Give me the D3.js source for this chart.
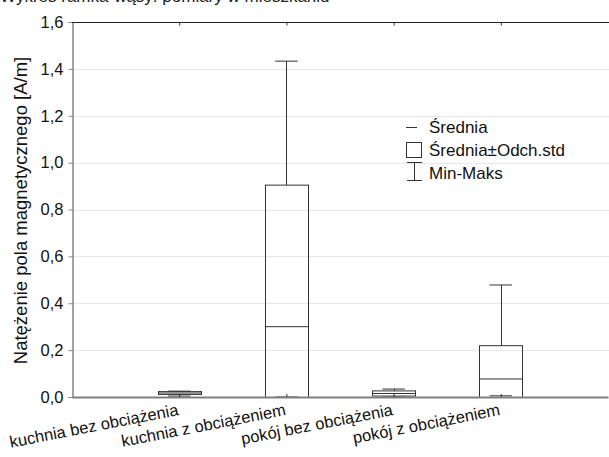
<!DOCTYPE html>
<html>
<head>
<meta charset="utf-8">
<script src="https://cdn.jsdelivr.net/npm/d3@7"></script>
<style>
  body { margin: 0; background: #fff; }
  svg { font-family: Arial, "Liberation Sans", sans-serif; }
</style>
</head>
<body>
<div id="chart"></div>
<script>
// box plot: srednia, srednia +/- odch.std, min-maks

var categories = ["kuchnia bez obciążenia", "kuchnia z obciążeniem", "pokój bez obciążenia", "pokój z obciążeniem"];
var means = [0.017, 0.30, 0.015, 0.077];
var sds   = [0.006, 0.604, 0.011, 0.142];
var mins  = [0.004, 0.0, 0.0, 0.005];
var maxs  = [0.025, 1.433, 0.034, 0.478];
var yTicks = [0, 0.2, 0.4, 0.6, 0.8, 1.0, 1.2, 1.4, 1.6];
var legendLabels = ["Średnia", "Średnia±Odch.std", "Min-Maks"];
var titleText = "Wykres ramka-wąsy: pomiary w mieszkaniu";
var yLabel = "Natężenie pola magnetycznego [A/m]";

var W = 609, H = 457;
var mLeft = 72, mRight = 608, mTop = 22, mBottom = 397;
var dark = "#333";

var svg = d3.select("#chart").append("svg")
    .attr("width", W)
    .attr("height", H);

var x = d3.scalePoint().domain(categories).range([mLeft, mRight]).padding(1);
var y = d3.scaleLinear().domain([0, 1.6]).range([mBottom, mTop]);
var fmt = function(d){ return d3.format(".1f")(d).replace(".", ","); };
var boxW = x.step() * 0.4, capW = x.step() * 0.21;

// title (cut off at the top of the picture)
svg.append("text")
    .attr("x", 0)
    .attr("y", 1.5)
    .attr("font-size", 17)
    .attr("fill", "#222")
    .text(titleText);

// gridlines
svg.append("g").selectAll("line")
    .data(yTicks.filter(function(d){ return d > 0; }))
    .enter().append("line")
    .attr("x1", mLeft).attr("x2", W)
    .attr("y1", function(d){ return Math.round(y(d)) + 0.5; })
    .attr("y2", function(d){ return Math.round(y(d)) + 0.5; })
    .attr("stroke", "#e8e8e8")
    .attr("stroke-width", 1);

// clip for boxes
svg.append("clipPath").attr("id", "plotclip")
    .append("rect").attr("x", mLeft).attr("y", mTop).attr("width", W - mLeft).attr("height", mBottom - mTop);

var boxes = svg.append("g").attr("clip-path", "url(#plotclip)")
    .selectAll("g")
    .data(categories)
    .enter().append("g");

// whiskers
boxes.append("line")
    .attr("x1", function(d){ return Math.round(x(d)) + 0.5; })
    .attr("x2", function(d){ return Math.round(x(d)) + 0.5; })
    .attr("y1", function(d, i){ return y(maxs[i]); })
    .attr("y2", function(d, i){ return y(means[i] + sds[i]); })
    .attr("stroke", dark);
boxes.append("line")
    .attr("x1", function(d){ return Math.round(x(d)) + 0.5; })
    .attr("x2", function(d){ return Math.round(x(d)) + 0.5; })
    .attr("y1", function(d, i){ return y(mins[i]); })
    .attr("y2", function(d, i){ return y(Math.max(means[i] - sds[i], mins[i])); })
    .attr("stroke", dark);
boxes.each(function(d, i){
    var g = d3.select(this);
    [maxs[i], mins[i]].forEach(function(v){
        g.append("line")
            .attr("x1", x(d) - capW / 2).attr("x2", x(d) + capW / 2)
            .attr("y1", y(v)).attr("y2", y(v))
            .attr("stroke", dark);
    });
});

// boxes
boxes.append("rect")
    .attr("x", function(d){ return Math.round(x(d) - boxW / 2) + 0.5; })
    .attr("width", Math.round(boxW))
    .attr("y", function(d, i){ return y(means[i] + sds[i]); })
    .attr("height", function(d, i){ return y(means[i] - sds[i]) - y(means[i] + sds[i]); })
    .attr("fill", "none")
    .attr("stroke", dark);

// mean line
boxes.append("line")
    .attr("x1", function(d){ return Math.round(x(d) - boxW / 2) + 0.5; })
    .attr("x2", function(d){ return Math.round(x(d) - boxW / 2) + 0.5 + Math.round(boxW); })
    .attr("y1", function(d, i){ return y(means[i]); })
    .attr("y2", function(d, i){ return y(means[i]); })
    .attr("stroke", dark);

// y axis
var yAxis = svg.append("g")
    .attr("transform", "translate(" + (mLeft + 0.5) + ",0)")
    .call(d3.axisLeft(y).tickValues(yTicks).tickFormat(fmt).tickSize(4).tickPadding(5));
yAxis.select(".domain").attr("stroke", "#444");
yAxis.selectAll(".tick line").attr("stroke", "#888");
yAxis.selectAll("text").attr("font-size", 16.5).attr("fill", "#111").attr("font-family", null);

// x axis (bottom) with inward ticks
var xAxis = svg.append("g")
    .attr("transform", "translate(0," + mBottom + ")")
    .call(d3.axisBottom(x).tickSize(-3).tickSizeOuter(0).tickFormat(""));
xAxis.select(".domain").attr("stroke", "#808080").attr("stroke-width", 2);
xAxis.selectAll(".tick line").attr("stroke", dark);

// top border with inward ticks
var xTop = svg.append("g")
    .attr("transform", "translate(0," + (mTop + 0.5) + ")")
    .call(d3.axisTop(x).tickSize(-3).tickSizeOuter(0).tickFormat(""));
xTop.select(".domain").attr("stroke", "#222").attr("d", "M" + mLeft + ",0H" + W);
xTop.selectAll(".tick line").attr("stroke", dark);

// category labels, tilted
svg.append("g").selectAll("text")
    .data(categories)
    .enter().append("text")
    .attr("transform", function(d){ return "translate(" + x(d) + "," + (mBottom + 18) + ") rotate(-11)"; })
    .attr("text-anchor", "end")
    .attr("font-size", 16.5)
    .attr("fill", "#111")
    .text(function(d){ return d; });

// y label
svg.append("text")
    .attr("transform", "translate(27," + ((mTop + mBottom) / 2 + 1) + ") rotate(-90)")
    .attr("text-anchor", "middle")
    .attr("font-size", 18.5)
    .attr("fill", "#111")
    .text(yLabel);

// legend
var lg = svg.append("g").attr("transform", "translate(406,0)");
lg.append("line").attr("x1", 0).attr("x2", 11).attr("y1", 127.5).attr("y2", 127.5).attr("stroke", dark);
lg.append("rect").attr("x", 0.5).attr("y", 142.5).attr("width", 15).attr("height", 15)
    .attr("fill", "none").attr("stroke", dark);
lg.append("line").attr("x1", 8.5).attr("x2", 8.5).attr("y1", 162).attr("y2", 181).attr("stroke", dark);
lg.append("line").attr("x1", 1).attr("x2", 16).attr("y1", 162.5).attr("y2", 162.5).attr("stroke", dark);
lg.append("line").attr("x1", 1).attr("x2", 16).attr("y1", 180.5).attr("y2", 180.5).attr("stroke", dark);
lg.selectAll("text.lab")
    .data(legendLabels)
    .enter().append("text")
    .attr("class", "lab")
    .attr("x", 23)
    .attr("y", function(d, i){ return 133 + i * 23; })
    .attr("font-size", 17)
    .attr("fill", "#111")
    .text(function(d){ return d; });
</script>
</body>
</html>
